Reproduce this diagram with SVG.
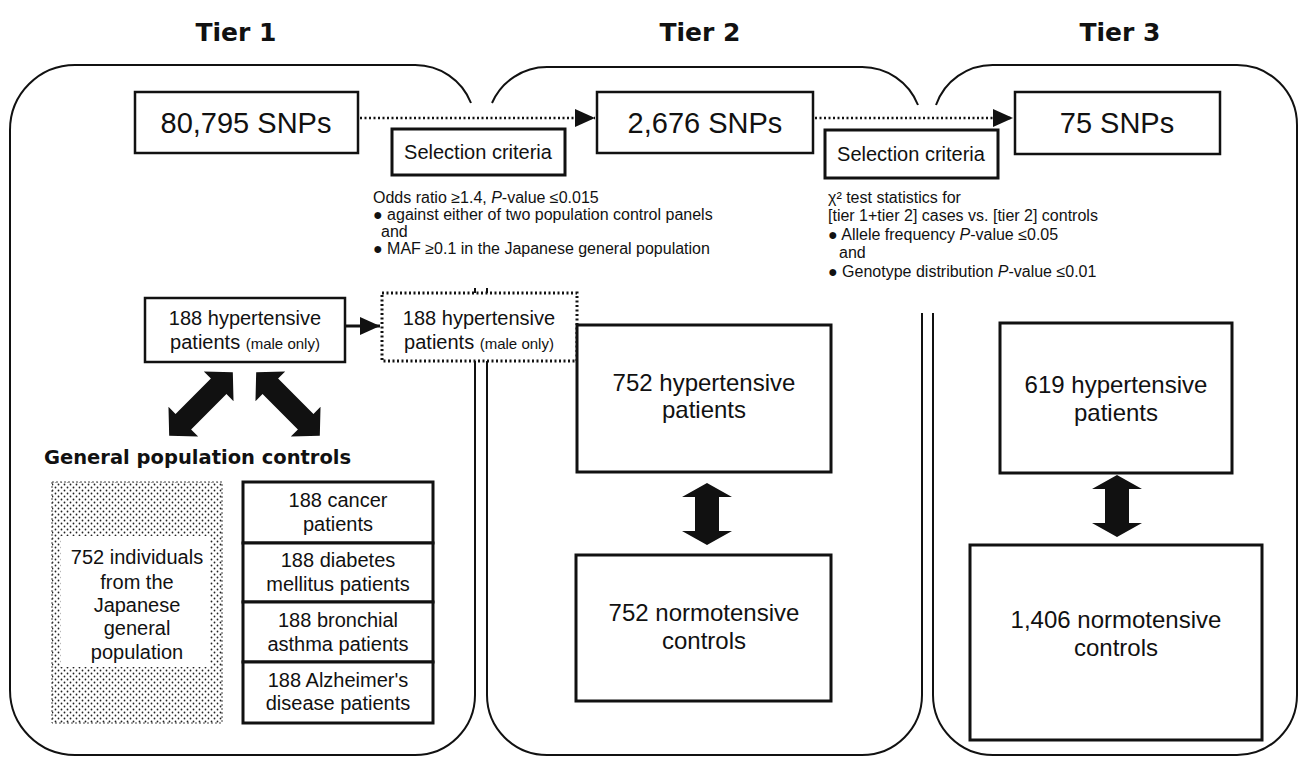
<svg xmlns="http://www.w3.org/2000/svg" width="1308" height="759" viewBox="0 0 1308 759">
<style>
text{font-family:"Liberation Sans",Arial,sans-serif;fill:#111}
.panel{fill:none;stroke:#111;stroke-width:2}
.box{fill:#fff;stroke:#111;stroke-width:2.5}
.thick{fill:#fff;stroke:#111;stroke-width:3}
.dotbox{fill:#fff;stroke:#111;stroke-width:3;stroke-dasharray:2 2.5}
.dotline{fill:none;stroke:#111;stroke-width:2.5;stroke-dasharray:2 2.5}
.solid{fill:none;stroke:#111;stroke-width:3}
.blk{fill:#111;stroke:none}
.title{font-family:"DejaVu Sans",sans-serif;font-size:25px;font-weight:bold;text-anchor:middle}
.snp{font-size:29px;text-anchor:middle}
.sel{font-size:20px;text-anchor:middle}
.crit{font-size:16px}
.big{font-size:24px;text-anchor:middle}
.mid{font-size:20px;text-anchor:middle}
.sm{font-size:15px}
.gp{font-family:"DejaVu Sans",sans-serif;font-size:19.5px;font-weight:bold}
</style>
<defs>
<marker id="tri" markerWidth="20" markerHeight="18" refX="20" refY="9" orient="auto" markerUnits="userSpaceOnUse">
<path d="M0,0 L20,9 L0,18 Z" fill="#111"/>
</marker>
<pattern id="stip" width="6" height="6" patternUnits="userSpaceOnUse">
<rect width="6" height="6" fill="#fff"/>
<circle cx="1.5" cy="1.5" r="0.9" fill="#222"/>
<circle cx="4.5" cy="4.5" r="0.9" fill="#222"/>
</pattern>
<path id="dblv" d="M0,-31 L25,-17 L12,-17 L12,17 L25,17 L0,31 L-25,17 L-12,17 L-12,-17 L-25,-17 Z"/>
<path id="dbld" d="M-45,0 L-25,-21 L-25,-11 L25,-11 L25,-21 L45,0 L25,21 L25,11 L-25,11 L-25,21 Z"/>
</defs>

<g id="titles">
<text class="title" x="236" y="41">Tier 1</text>
<text class="title" x="700" y="41">Tier 2</text>
<text class="title" x="1120" y="41">Tier 3</text>
</g>

<g id="panels">
<path class="panel" d="M471,103 A60,60 0 0 0 415,65 L75,65 A65,65 0 0 0 10,130 L10,690 A65,65 0 0 0 75,755 L415,755 A60,60 0 0 0 475,695 L475,288"/>
<path class="panel" d="M492,103 A60,60 0 0 1 547,67 L862,67 A60,60 0 0 1 918,105"/>
<path class="panel" d="M487,288 L487,695 A60,60 0 0 0 547,755 L862,755 A60,60 0 0 0 922,695 L922,313"/>
<path class="panel" d="M936,105 A60,60 0 0 1 993,65 L1237,65 A60,60 0 0 1 1297,125 L1297,695 A60,60 0 0 1 1237,755 L993,755 A60,60 0 0 1 933,695 L933,313"/>
</g>

<g id="connectors">
<line class="dotline" x1="360" y1="118" x2="595" y2="118" marker-end="url(#tri)"/>
<line class="dotline" x1="815" y1="118" x2="1013" y2="118" marker-end="url(#tri)"/>
<line class="solid" x1="346" y1="326" x2="380" y2="326" marker-end="url(#tri)"/>
<use href="#dbld" class="blk" transform="translate(201,404) rotate(-45)"/>
<use href="#dbld" class="blk" transform="translate(288,404) rotate(45)"/>
<use href="#dblv" class="blk" transform="translate(707,514)"/>
<use href="#dblv" class="blk" transform="translate(1117,506)"/>
</g>

<g id="snp1">
<rect class="box" x="135" y="92" width="223" height="61"/>
<text class="snp" x="246" y="133">80,795 SNPs</text>
</g>
<g id="snp2">
<rect class="box" x="597" y="92" width="216" height="61"/>
<text class="snp" x="705" y="133">2,676 SNPs</text>
</g>
<g id="snp3">
<rect class="box" x="1015" y="92" width="205" height="62"/>
<text class="snp" x="1117" y="133">75 SNPs</text>
</g>

<g id="sel1">
<rect class="thick" x="392" y="129" width="173" height="46"/>
<text class="sel" x="478" y="159">Selection criteria</text>
</g>
<g id="crit1">
<text class="crit" x="373" y="203">Odds ratio ≥1.4, <tspan font-style="italic">P</tspan>-value ≤0.015</text>
<text class="crit" x="373" y="220">● against either of two population control panels</text>
<text class="crit" x="381" y="237">and</text>
<text class="crit" x="373" y="254">● MAF ≥0.1 in the Japanese general population</text>
</g>

<g id="sel2">
<rect class="thick" x="825" y="130" width="173" height="48"/>
<text class="sel" x="911" y="161">Selection criteria</text>
</g>
<g id="crit2">
<text class="crit" x="828" y="203">χ² test statistics for</text>
<text class="crit" x="828" y="221">[tier 1+tier 2] cases vs. [tier 2] controls</text>
<text class="crit" x="828" y="240">● Allele frequency <tspan font-style="italic">P</tspan>-value ≤0.05</text>
<text class="crit" x="839" y="258">and</text>
<text class="crit" x="828" y="277">● Genotype distribution <tspan font-style="italic">P</tspan>-value ≤0.01</text>
</g>

<g id="hyp188">
<rect class="box" x="145" y="298" width="200" height="64"/>
<text class="mid" x="245" y="325">188 hypertensive</text>
<text class="mid" x="245" y="349">patients <tspan class="sm">(male only)</tspan></text>
</g>

<g id="hyp188b">
<rect class="dotbox" x="382" y="293" width="195" height="68"/>
<text class="mid" x="479" y="325">188 hypertensive</text>
<text class="mid" x="479" y="349">patients <tspan class="sm">(male only)</tspan></text>
</g>

<g id="gpc">
<text class="gp" x="44" y="464">General population controls</text>
</g>

<g id="jgp">
<rect x="52" y="482" width="170" height="241" fill="url(#stip)" stroke="#444" stroke-width="1" stroke-dasharray="2 2"/>
<rect x="61" y="536" width="149" height="131" fill="#fff"/>
<text class="mid" x="137" y="564">752 individuals</text>
<text class="mid" x="137" y="589">from the</text>
<text class="mid" x="137" y="612">Japanese</text>
<text class="mid" x="137" y="635">general</text>
<text class="mid" x="137" y="659">population</text>
</g>

<g id="cancer">
<rect class="thick" x="243" y="482" width="190" height="61"/>
<text class="mid" x="338" y="507">188 cancer</text>
<text class="mid" x="338" y="531">patients</text>
</g>
<g id="diabetes">
<rect class="thick" x="243" y="543" width="190" height="59"/>
<text class="mid" x="338" y="567">188 diabetes</text>
<text class="mid" x="338" y="591">mellitus patients</text>
</g>
<g id="asthma">
<rect class="thick" x="243" y="602" width="190" height="60"/>
<text class="mid" x="338" y="627">188 bronchial</text>
<text class="mid" x="338" y="651">asthma patients</text>
</g>
<g id="alz">
<rect class="thick" x="243" y="662" width="190" height="61"/>
<text class="mid" x="338" y="687">188 Alzheimer's</text>
<text class="mid" x="338" y="710">disease patients</text>
</g>

<g id="hyp752">
<rect class="thick" x="577" y="325" width="254" height="147"/>
<text class="big" x="704" y="391">752 hypertensive</text>
<text class="big" x="704" y="418">patients</text>
</g>
<g id="norm752">
<rect class="thick" x="576" y="555" width="255" height="146"/>
<text class="big" x="704" y="621">752 normotensive</text>
<text class="big" x="704" y="649">controls</text>
</g>

<g id="hyp619">
<rect class="thick" x="1000" y="323" width="232" height="150"/>
<text class="big" x="1116" y="393">619 hypertensive</text>
<text class="big" x="1116" y="421">patients</text>
</g>
<g id="norm1406">
<rect class="thick" x="970" y="545" width="292" height="195"/>
<text class="big" x="1116" y="628">1,406 normotensive</text>
<text class="big" x="1116" y="656">controls</text>
</g>
</svg>
